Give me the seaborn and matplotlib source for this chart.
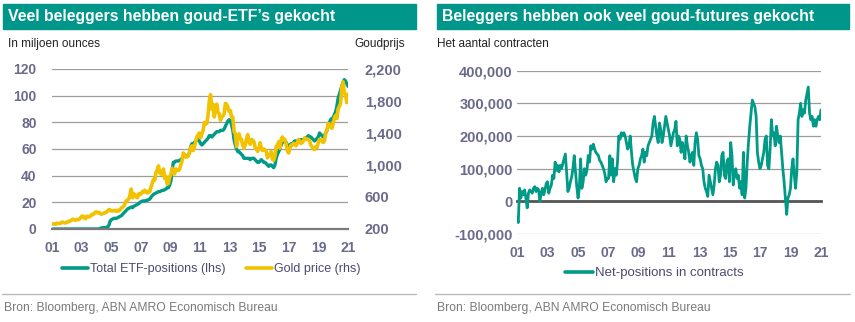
import numpy as np
import pandas as pd
import matplotlib
matplotlib.use("Agg")
import matplotlib.pyplot as plt
import seaborn as sns
from matplotlib.lines import Line2D
from matplotlib.patches import Rectangle
from matplotlib.ticker import FuncFormatter, FixedLocator

# ---------------------------------------------------------------- data
# Monthly observations, January 2001 - December 2020
etf_positions = [  # million ounces
    0, 0, 0, 0, 0, 0, 0, 0, 0, 0, 0, 0,
    0, 0, 0, 0, 0, 0, 0, 0, 0, 0, 0, 0,
    0, 0, 0, 0, 0, 0, 0, 0, 0, 0, 0, 0,
    0, 0, 0, 0.5, 0.8, 1, 1, 1, 1.2, 1.5, 3, 6,
    7, 7.5, 8, 8, 8, 8.5, 9, 9.5, 10, 11, 12, 13,
    14, 15, 15.5, 16, 16.5, 16, 17, 17.5, 18, 18.5, 19, 20,
    20.5, 21, 21, 21, 21.5, 21.5, 22, 22.5, 24, 25, 26, 26.5,
    27, 27.5, 28, 28, 28.5, 29, 29, 29.5, 30, 31, 31, 33,
    36, 44, 50, 50, 51, 51, 51, 51.5, 52, 53, 54, 55,
    55, 55, 55.5, 57, 62, 64, 64, 65, 66, 67, 67, 66,
    64, 63, 64, 65, 66, 67, 68, 70, 70, 69, 70, 71,
    72, 73, 73, 73, 74, 74, 74, 75, 77, 79, 81, 82,
    81, 78, 74, 67, 63, 60, 58, 58, 57, 56, 55, 53,
    53, 53, 53, 53, 52, 53, 53, 53, 52, 51, 50, 50,
    51, 52, 51, 50, 50, 49, 48, 47, 48, 48, 47, 46,
    48, 53, 56, 58, 60, 63, 65, 66, 66, 65, 63, 62,
    63, 64, 64, 65, 66, 66, 65, 66, 67, 67, 67, 67,
    68, 68, 69, 70, 69, 69, 68, 67, 66, 67, 68, 69,
    72, 71, 70, 69, 70, 72, 74, 77, 80, 82, 83, 83,
    86, 88, 92, 98, 101, 104, 107, 110, 112, 111, 109, 107,
]

gold_price = [  # USD per ounce
    266, 262, 264, 258, 272, 271, 268, 273, 285, 283, 276, 276,
    282, 296, 294, 302, 316, 322, 313, 310, 320, 316, 320, 340,
    358, 362, 338, 328, 360, 352, 350, 362, 382, 378, 392, 410,
    412, 402, 410, 392, 385, 394, 398, 405, 410, 425, 445, 438,
    425, 425, 432, 430, 420, 435, 425, 440, 465, 472, 488, 515,
    555, 560, 575, 630, 700, 590, 640, 630, 600, 590, 640, 632,
    640, 670, 660, 685, 665, 650, 670, 665, 725, 775, 820, 810,
    910, 940, 990, 900, 885, 900, 950, 830, 860, 760, 770, 850,
    880, 960, 920, 890, 950, 940, 930, 950, 1000, 1050, 1150, 1130,
    1100, 1100, 1110, 1160, 1220, 1240, 1180, 1230, 1290, 1350, 1380, 1400,
    1340, 1390, 1430, 1530, 1510, 1520, 1620, 1800, 1880, 1700, 1760, 1600,
    1700, 1760, 1660, 1640, 1560, 1600, 1610, 1640, 1770, 1760, 1720, 1670,
    1680, 1600, 1600, 1420, 1390, 1230, 1320, 1390, 1330, 1320, 1250, 1210,
    1250, 1320, 1380, 1290, 1260, 1320, 1310, 1290, 1220, 1200, 1170, 1200,
    1280, 1210, 1180, 1200, 1190, 1170, 1090, 1130, 1120, 1170, 1070, 1060,
    1110, 1230, 1240, 1290, 1210, 1320, 1350, 1310, 1320, 1270, 1180, 1150,
    1200, 1250, 1250, 1270, 1270, 1240, 1270, 1320, 1300, 1270, 1280, 1300,
    1340, 1320, 1325, 1320, 1300, 1250, 1225, 1200, 1195, 1230, 1220, 1280,
    1320, 1315, 1295, 1280, 1300, 1410, 1430, 1520, 1480, 1510, 1460, 1515,
    1590, 1620, 1580, 1700, 1730, 1770, 1970, 2040, 1900, 1880, 1780, 1890,
]

net_positions_k = [  # thousands of contracts
    -50, -65, 40, 10, 30, 20, 35, 10, -20, 25, 35, 30,
    25, 40, 45, 30, 40, 35, 0, 25, 40, 20, 35, 55,
    60, 25, 40, 50, 80, 70, 120, 95, 110, 90, 110, 100,
    115, 130, 145, 90, 30, 40, 60, 75, 100, 140, 90, 45,
    10, 40, 130, 40, 60, 100, 80, 95, 140, 120, 170, 160,
    175, 160, 150, 145, 140, 125, 120, 110, 100, 85, 60, 70,
    70, 140, 80, 130, 60, 100, 80, 120, 200, 190, 210, 200,
    210, 200, 180, 160, 170, 200, 150, 110, 90, 70, 60, 100,
    110, 130, 140, 160, 120, 150, 140, 170, 180, 190, 200, 240,
    260, 230, 200, 180, 240, 220, 180, 200, 230, 260, 240, 220,
    200, 170, 190, 210, 220, 245, 170, 200, 190, 150, 180, 160,
    130, 200, 170, 150, 120, 140, 150, 110, 180, 210, 190, 140,
    130, 110, 100, 60, 40, 30, 15, 80, 60, 40, 20, 50,
    100, 120, 110, 60, 80, 140, 150, 80, 70, 120, 130, 60,
    180, 140, 50, 90, 100, 70, 80, 40, 60, 20, 150, 10,
    40, 120, 180, 230, 270, 310, 300, 290, 260, 150, 120, 100,
    110, 130, 150, 190, 200, 110, 100, 160, 250, 200, 210, 170,
    230, 200, 180, 200, 150, 100, 60, 10, -40, 10, 20, 40,
    100, 130, 80, 40, 90, 250, 270, 300, 260, 280, 270, 310,
    330, 350, 270, 250, 260, 230, 250, 230, 250, 260, 250, 280,
]

tick_years = list(range(2001, 2022, 2))
tick_labels = [f"{y % 100:02d}" for y in tick_years]
etf_ticks = [0, 20, 40, 60, 80, 100, 120]
gold_ticks = [200, 600, 1000, 1400, 1800, 2200]
futures_ticks = [-100000, 0, 100000, 200000, 300000, 400000]

# ---------------------------------------------------------------- style
TEAL = "#009A86"
BAR = "#00968A"
GOLD = "#F2C200"
TICK = "#6A6A8C"
LEGEND_TXT = "#4B4B6E"
GRID = "#9C9C9C"

sns.set_theme(style="white")
plt.rcParams["font.family"] = ["Liberation Sans", "DejaVu Sans"]

dates = pd.date_range("2001-01-01", "2021-01-01", periods=len(gold_price))
df = pd.DataFrame({
    "date": dates,
    "etf": etf_positions,
    "gold": gold_price,
    "net": np.array(net_positions_k) * 1000,
})
xticks = pd.to_datetime([f"{y}-01-01" for y in tick_years])
xlim = (pd.Timestamp("2001-01-01"), pd.Timestamp("2021-01-01"))

W, H = 855, 322
fig = plt.figure(figsize=(W / 100, H / 100), dpi=100)


def fx(px):
    return px / W


def fy(py):
    return 1 - py / H


# ---------------------------------------------------------------- left panel
ax = fig.add_axes([fx(52), fy(229), fx(348 - 52), (229 - 69) / H])
sns.lineplot(data=df, x="date", y="etf", ax=ax, color=TEAL, lw=2.4)
ax.set_ylim(0, 120)
ax.set_xlim(*xlim)
ax.yaxis.set_major_locator(FixedLocator(etf_ticks))
ax.grid(axis="y", color=GRID, lw=0.9)
ax.set_axisbelow(True)

ax2 = ax.twinx()
sns.lineplot(data=df, x="date", y="gold", ax=ax2, color=GOLD, lw=2.6)
ax2.set_ylim(200, 2200)
ax2.yaxis.set_major_locator(FixedLocator(gold_ticks))
ax2.yaxis.set_major_formatter(FuncFormatter(lambda v, p: f"{v:,.0f}"))
ax2.grid(False)

for a in (ax, ax2):
    a.set_xlabel("")
    a.set_ylabel("")
    for s in ("top", "left", "right", "bottom"):
        a.spines[s].set_visible(False)
ax.spines["bottom"].set_visible(True)
ax.spines["bottom"].set_color("#7A7A7A")
ax.spines["bottom"].set_linewidth(1.6)
ax.set_xticks(xticks)
ax.set_xticklabels(tick_labels)
ax.tick_params(axis="x", direction="out", length=3, width=1.2, color="#7A7A7A",
               pad=6, labelsize=10, labelcolor=TICK)
ax.tick_params(axis="y", length=0, pad=11, labelsize=10, labelcolor=TICK)
ax2.tick_params(axis="y", length=0, pad=12, labelsize=10.5, labelcolor=TICK)
for lab in ax.get_xticklabels() + ax.get_yticklabels() + ax2.get_yticklabels():
    lab.set_fontweight("bold")

# ---------------------------------------------------------------- right panel
bx = fig.add_axes([fx(517), fy(234), fx(821 - 517), (234 - 70.7) / H])
sns.lineplot(data=df, x="date", y="net", ax=bx, color=TEAL, lw=2.0)
bx.set_ylim(-100000, 400000)
bx.set_xlim(*xlim)
bx.yaxis.set_major_locator(FixedLocator(futures_ticks))
bx.yaxis.set_major_formatter(FuncFormatter(lambda v, p: f"{v:,.0f}"))
bx.grid(axis="y", color=GRID, lw=0.9)
bx.set_axisbelow(True)
bx.set_xlabel("")
bx.set_ylabel("")
for s in ("top", "left", "right"):
    bx.spines[s].set_visible(False)
bx.spines["bottom"].set_position(("data", 0))
bx.spines["bottom"].set_color("#555555")
bx.spines["bottom"].set_linewidth(2.0)
bx.spines["bottom"].set_zorder(1)
bx.set_xticks(xticks)
bx.set_xticklabels(tick_labels)
bx.tick_params(axis="x", direction="out", length=3, width=1.2, color="#555555",
               pad=29, labelsize=10, labelcolor=TICK)
bx.tick_params(axis="y", length=0, pad=3, labelsize=10.5, labelcolor=TICK)
for lab in bx.get_xticklabels() + bx.get_yticklabels():
    lab.set_fontweight("bold")

# ---------------------------------------------------------------- headers
for x0, x1, title in ((3, 416, "Veel beleggers hebben goud-ETF\u2019s gekocht"),
                      (437, 849, "Beleggers hebben ook veel goud-futures gekocht")):
    fig.patches.append(Rectangle((fx(x0), fy(29)), fx(x1 - x0), (29 - 4) / H,
                                 transform=fig.transFigure, color=BAR, zorder=0))
    fig.text(fx(x0 + 5), fy(16.5), title, color="white", fontsize=11.4,
             fontweight="bold", va="center", ha="left")

fig.text(fx(8), fy(44), "In miljoen ounces", fontsize=8.5, color="#222222",
         va="center", ha="left")
fig.text(fx(405), fy(44), "Goudprijs", fontsize=8.5, color="#222222",
         va="center", ha="right")
fig.text(fx(437), fy(44), "Het aantal contracten", fontsize=8.5,
         color="#222222", va="center", ha="left")

# ---------------------------------------------------------------- legends
left_handles = [Line2D([], [], color=TEAL, lw=2.6),
                Line2D([], [], color=GOLD, lw=2.6)]
leg1 = fig.legend(left_handles, ["Total ETF-positions (lhs)", "Gold price (rhs)"],
                  loc="center", bbox_to_anchor=(fx(211), fy(269)), ncol=2,
                  frameon=False, fontsize=9, handlelength=2.1,
                  handletextpad=0.15, columnspacing=1.6)
for t in leg1.get_texts():
    t.set_color(LEGEND_TXT)

leg2 = fig.legend([Line2D([], [], color=TEAL, lw=2.6)],
                  ["Net-positions in contracts"], loc="center",
                  bbox_to_anchor=(fx(654), fy(273)), frameon=False,
                  fontsize=9.5, handlelength=2.1, handletextpad=0.15)
for t in leg2.get_texts():
    t.set_color(LEGEND_TXT)

# ---------------------------------------------------------------- footers
for x0, x1 in ((2, 416), (435, 850)):
    fig.add_artist(Line2D([fx(x0), fx(x1)], [fy(294), fy(294)],
                          transform=fig.transFigure, color="#BBBBBB", lw=1))
    fig.text(fx(x0 + 2), fy(307.5), "Bron: Bloomberg, ABN AMRO Economisch Bureau",
             fontsize=8.7, color="#7A7A7A", va="center", ha="left")

fig.savefig("out.png", dpi=100, facecolor="white")
